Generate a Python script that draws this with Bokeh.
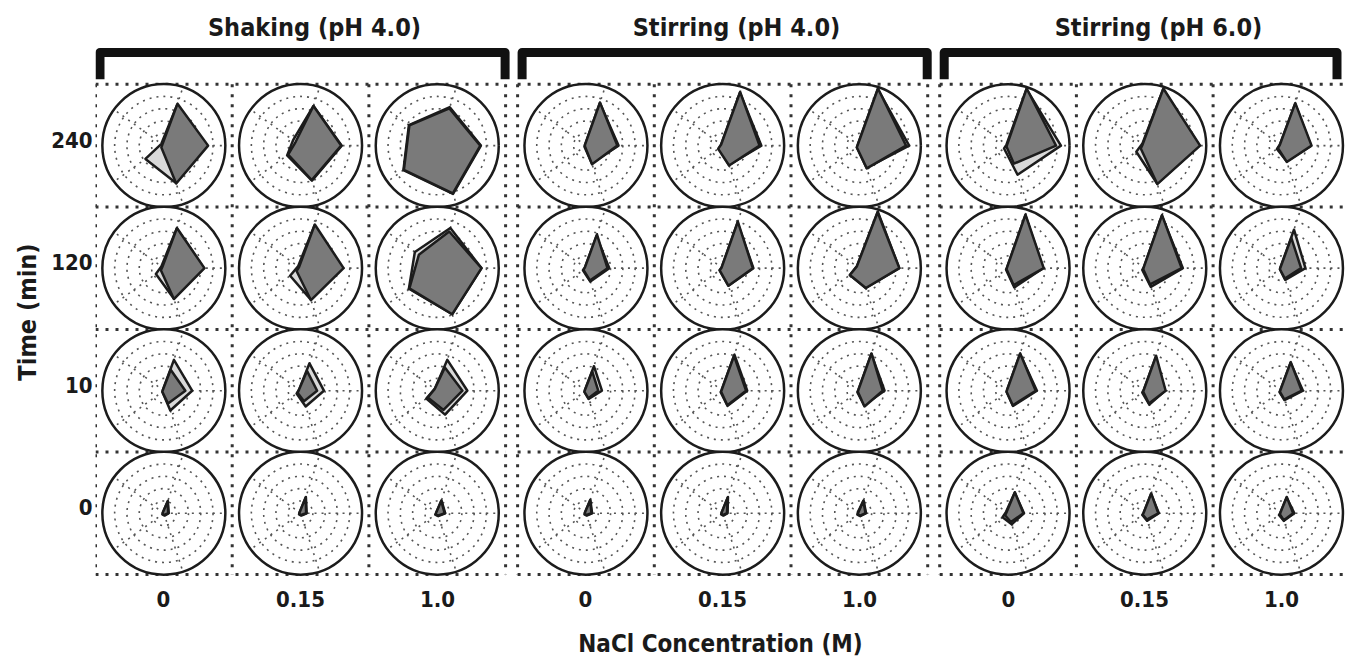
import math
from bokeh.plotting import figure
from bokeh.models import Range1d, FixedTicker, LinearAxis
from bokeh.embed import file_html
from bokeh.resources import INLINE

# ---------------- data ----------------
groups = ["Shaking (pH 4.0)", "Stirring (pH 4.0)", "Stirring (pH 6.0)"]
nacl = ["0", "0.15", "1.0"]
times = ["240", "120", "10", "0"]

# Radar values as a fraction of the outer ring, five axes at 0°, 72°, 144°, 216°, 288°.
# Rows: time 240, 120, 10, 0 min; inside each row: NaCl 0, 0.15, 1.0 M.
shaking_ph4_light = [
    [[0.70, 0.70, 0.05, 0.37, 0.64], [0.67, 0.68, 0.15, 0.27, 0.60], [0.71, 0.66, 0.57, 0.68, 0.83]],
    [[0.65, 0.68, 0.05, 0.16, 0.52], [0.68, 0.73, 0.05, 0.21, 0.54], [0.72, 0.69, 0.45, 0.57, 0.79]],
    [[0.46, 0.53, 0.02, 0.03, 0.34], [0.38, 0.47, 0.03, 0.08, 0.27], [0.49, 0.53, 0.05, 0.22, 0.41]],
    [[0.08, 0.21, 0.02, 0.03, 0.04], [0.10, 0.28, 0.02, 0.03, 0.04], [0.13, 0.22, 0.02, 0.04, 0.05]],
]
shaking_ph4_dark = [
    [[0.72, 0.72, 0.03, 0.05, 0.65], [0.66, 0.68, 0.10, 0.25, 0.59], [0.70, 0.64, 0.56, 0.67, 0.82]],
    [[0.66, 0.69, 0.03, 0.06, 0.53], [0.70, 0.75, 0.03, 0.08, 0.55], [0.72, 0.63, 0.37, 0.56, 0.79]],
    [[0.35, 0.36, 0.02, 0.03, 0.22], [0.27, 0.34, 0.03, 0.06, 0.18], [0.41, 0.40, 0.05, 0.19, 0.33]],
    [[0.07, 0.20, 0.02, 0.02, 0.03], [0.09, 0.27, 0.02, 0.02, 0.03], [0.12, 0.21, 0.02, 0.03, 0.04]],
]
stirring_ph4_light = [
    [[0.53, 0.73, 0.02, 0.03, 0.30], [0.63, 0.91, 0.03, 0.08, 0.33], [0.81, 0.97, 0.03, 0.05, 0.38]],
    [[0.38, 0.55, 0.02, 0.06, 0.23], [0.50, 0.78, 0.02, 0.06, 0.30], [0.65, 0.97, 0.05, 0.19, 0.34]],
    [[0.26, 0.42, 0.02, 0.03, 0.14], [0.40, 0.62, 0.02, 0.04, 0.26], [0.41, 0.63, 0.02, 0.04, 0.25]],
    [[0.10, 0.23, 0.02, 0.03, 0.04], [0.08, 0.28, 0.02, 0.03, 0.04], [0.11, 0.22, 0.03, 0.04, 0.05]],
]
stirring_ph4_dark = [
    [[0.51, 0.74, 0.02, 0.02, 0.32], [0.60, 0.92, 0.03, 0.09, 0.34], [0.76, 0.98, 0.03, 0.05, 0.39]],
    [[0.35, 0.58, 0.02, 0.05, 0.21], [0.49, 0.80, 0.02, 0.06, 0.30], [0.65, 0.96, 0.05, 0.19, 0.34]],
    [[0.20, 0.33, 0.02, 0.03, 0.13], [0.38, 0.60, 0.02, 0.03, 0.25], [0.38, 0.64, 0.02, 0.03, 0.27]],
    [[0.09, 0.22, 0.02, 0.02, 0.03], [0.07, 0.27, 0.02, 0.02, 0.03], [0.10, 0.21, 0.02, 0.03, 0.04]],
]
stirring_ph6_light = [
    [[0.86, 0.97, 0.03, 0.08, 0.50], [0.89, 0.97, 0.05, 0.17, 0.65], [0.48, 0.72, 0.03, 0.09, 0.27]],
    [[0.57, 0.91, 0.02, 0.04, 0.33], [0.62, 0.90, 0.02, 0.05, 0.32], [0.39, 0.66, 0.02, 0.03, 0.20]],
    [[0.47, 0.63, 0.02, 0.03, 0.26], [0.33, 0.58, 0.02, 0.05, 0.24], [0.35, 0.48, 0.02, 0.04, 0.16]],
    [[0.26, 0.35, 0.04, 0.11, 0.19], [0.23, 0.33, 0.02, 0.05, 0.13], [0.21, 0.27, 0.02, 0.05, 0.13]],
]
stirring_ph6_dark = [
    [[0.78, 0.98, 0.02, 0.03, 0.31], [0.90, 0.98, 0.04, 0.08, 0.66], [0.49, 0.73, 0.03, 0.07, 0.28]],
    [[0.58, 0.92, 0.02, 0.03, 0.29], [0.60, 0.91, 0.02, 0.03, 0.28], [0.32, 0.52, 0.02, 0.03, 0.18]],
    [[0.45, 0.64, 0.02, 0.03, 0.25], [0.34, 0.60, 0.02, 0.03, 0.22], [0.33, 0.49, 0.02, 0.03, 0.15]],
    [[0.25, 0.36, 0.03, 0.06, 0.15], [0.22, 0.34, 0.02, 0.04, 0.11], [0.19, 0.28, 0.02, 0.03, 0.12]],
]
light_series = [shaking_ph4_light, stirring_ph4_light, stirring_ph6_light]
dark_series = [shaking_ph4_dark, stirring_ph4_dark, stirring_ph6_dark]

# ---------------- layout ----------------
FONT = "DejaVu Sans Condensed, Roboto Condensed, Roboto"
W, H = 1345, 660
X0, COL_W, GAP = 95.0, 136.7, 12.0
ROW_TOP, ROW_H = 84.0, 123.0
R = 61.5
N_AX = 5
ANG = [2 * math.pi * k / N_AX for k in range(N_AX)]
DARK_FILL, LIGHT_FILL, INK = "#7a7a7a", "#d9d9d9", "#1c1c1c"


def gx(g):
    return X0 + g * (3 * COL_W + GAP)


col_cx = [[gx(g) + (c + 0.5) * COL_W for c in range(3)] for g in range(3)]
row_cy = [ROW_TOP + (r + 0.5) * ROW_H for r in range(len(times))]

p = figure(width=W, height=H, x_range=Range1d(95, 1345), y_range=Range1d(580, 45),
           output_backend="svg", toolbar_location=None,
           min_border_left=95, min_border_right=0, min_border_top=45, min_border_bottom=80)
p.xgrid.visible = False
p.ygrid.visible = False
p.outline_line_color = None
p.background_fill_color = "white"


def style_axis(ax, size, label_size):
    ax.axis_line_color = None
    ax.major_tick_line_color = None
    ax.minor_tick_line_color = None
    ax.major_tick_out = 0
    ax.major_tick_in = 0
    ax.major_label_text_font = FONT
    ax.major_label_text_font_style = "bold"
    ax.major_label_text_font_size = size
    ax.major_label_text_color = "#1a1a1a"
    ax.axis_label_text_font = FONT
    ax.axis_label_text_font_style = "bold"
    ax.axis_label_text_font_size = label_size
    ax.axis_label_text_color = "#1a1a1a"


# bottom axis: NaCl concentrations
xt = [round(col_cx[g][c]) for g in range(3) for c in range(3)]
xa = p.xaxis[0]
xa.ticker = FixedTicker(ticks=xt)
xa.major_label_overrides = {t: nacl[i % 3] for i, t in enumerate(xt)}
xa.axis_label = "NaCl Concentration (M)"
style_axis(xa, "22px", "24px")
xa.major_label_standoff = 12
xa.axis_label_standoff = 20

# left axis: time
yt = [round(cy) - 6 for cy in row_cy]
ya = p.yaxis[0]
ya.ticker = FixedTicker(ticks=yt)
ya.major_label_overrides = {t: times[i] for i, t in enumerate(yt)}
ya.axis_label = "Time (min)"
style_axis(ya, "22px", "25px")
ya.major_label_standoff = 3
ya.axis_label_standoff = 6

# top axis: group titles
tt = [round(gx(g) + 1.5 * COL_W) + 14 for g in range(3)]
ta = LinearAxis(ticker=FixedTicker(ticks=tt),
                major_label_overrides={t: groups[i] for i, t in enumerate(tt)})
style_axis(ta, "25px", "25px")
ta.major_label_standoff = 4
p.add_layout(ta, "above")

# brackets
bx, by = [], []
for g in range(3):
    a = gx(g) + 4.5
    b = min(gx(g) + 3 * COL_W + 4, 1341) - 4.5
    bx.append([a, a, b, b])
    by.append([79, 52, 52, 79])
p.multi_line(bx, by, line_color="#111111", line_width=9, line_join="round", line_cap="butt")

# dotted cell grid
vx, vy, hx, hy = [], [], [], []
for g in range(3):
    for k in range(4):
        vx.append([gx(g) + k * COL_W] * 2)
        vy.append([ROW_TOP, ROW_TOP + 4 * ROW_H])
    for r in range(5):
        hx.append([gx(g), gx(g) + 3 * COL_W])
        hy.append([ROW_TOP + r * ROW_H] * 2)
p.multi_line(vx, vy, line_color="#333333", line_width=3, line_dash="3 7")
p.multi_line(hx, hy, line_color="#333333", line_width=3, line_dash="3 7")

# radar frames
cxs, cys = [], []
for g in range(3):
    for r in range(len(times)):
        for c in range(3):
            cxs.append(col_cx[g][c])
            cys.append(row_cy[r])
p.circle(cxs, cys, radius=R, fill_color="white", line_color=INK, line_width=2.5)
for f in (0.2, 0.4, 0.6, 0.8):
    p.circle(cxs, cys, radius=R * f, fill_color=None, line_color="#555555",
             line_width=1.6, line_dash="2 5")
sx, sy = [], []
for x, y in zip(cxs, cys):
    for a in ANG:
        sx.append([x, x + R * math.cos(a)])
        sy.append([y, y - R * math.sin(a)])
p.multi_line(sx, sy, line_color="#555555", line_width=1.6, line_dash="2 5")


def polys(series):
    xs, ys = [], []
    for g in range(3):
        for r in range(len(times)):
            for c in range(3):
                vals = series[g][r][c]
                x0, y0 = col_cx[g][c], row_cy[r]
                xs.append([x0 + R * v * math.cos(a) for v, a in zip(vals, ANG)])
                ys.append([y0 - R * v * math.sin(a) for v, a in zip(vals, ANG)])
    return xs, ys


lx, ly = polys(light_series)
p.patches(lx, ly, fill_color=LIGHT_FILL, line_color=INK, line_width=2.5, line_join="round")
dx, dy = polys(dark_series)
p.patches(dx, dy, fill_color=DARK_FILL, line_color=INK, line_width=2.5, line_join="round")

open("out.html", "w").write(file_html(p, INLINE))
